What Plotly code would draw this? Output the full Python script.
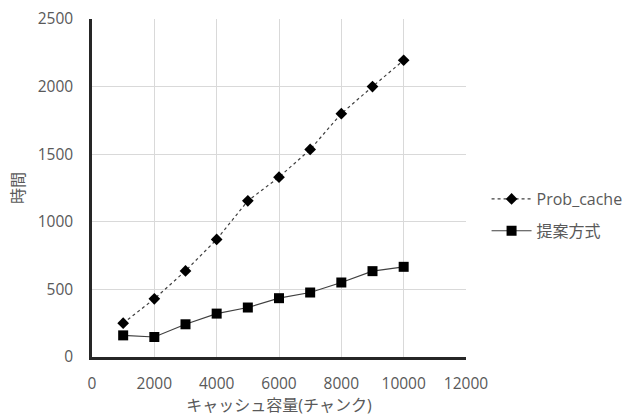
import plotly.graph_objects as go

capacity = [1000, 2000, 3000, 4000, 5000, 6000, 7000, 8000, 9000, 10000]
prob_cache = [250, 430, 637, 870, 1155, 1330, 1535, 1800, 2000, 2195]
proposed = [160, 148, 242, 321, 366, 435, 477, 551, 635, 667]

x_ticks = [0, 2000, 4000, 6000, 8000, 10000, 12000]
y_ticks = [0, 500, 1000, 1500, 2000, 2500]

font_family = "Open Sans, Noto Sans CJK JP, sans-serif"
grey = "#595959"

fig = go.Figure()
fig.add_trace(go.Scatter(
    x=capacity, y=prob_cache, name="Prob_cache", mode="lines+markers",
    legendgroup="a",
    line=dict(color="#404040", width=1.2, dash="dot"),
    marker=dict(symbol="diamond", size=9, color="black"),
))
fig.add_trace(go.Scatter(
    x=capacity, y=proposed, name="提案方式", mode="lines+markers",
    legendgroup="b",
    line=dict(color="#404040", width=1.2),
    marker=dict(symbol="square", size=10, color="black"),
))

fig.update_layout(
    width=623, height=420,
    margin=dict(l=92, r=157, t=19, b=63, autoexpand=False),
    paper_bgcolor="white", plot_bgcolor="white",
    font=dict(family=font_family, size=15, color=grey),
    showlegend=True,
    legend=dict(x=1.055, y=0.42, xanchor="left", yanchor="middle",
                font=dict(size=16, color=grey), bgcolor="rgba(0,0,0,0)",
                tracegroupgap=8, itemwidth=40),
    xaxis=dict(
        range=[0, 12000], tickvals=x_ticks, ticktext=[str(v) for v in x_ticks],
        showgrid=True, gridcolor="#d9d9d9", gridwidth=1,
        showline=True, linecolor="#262626", linewidth=2.5,
        zeroline=False, ticks="", ticklen=0, ticklabelstandoff=11,
        automargin=False,
        title=dict(text="キャッシュ容量(チャンク)", font=dict(size=16, color=grey), standoff=6),
        tickfont=dict(size=15.5, color=grey),
    ),
    yaxis=dict(
        range=[0, 2500], tickvals=y_ticks, ticktext=[str(v) for v in y_ticks],
        showgrid=True, gridcolor="#d9d9d9", gridwidth=1,
        showline=True, linecolor="#262626", linewidth=2.5,
        zeroline=False, ticks="", ticklen=0, ticklabelstandoff=13,
        automargin=False,
        title=dict(text="時間", font=dict(size=16, color=grey), standoff=10),
        tickfont=dict(size=15.5, color=grey),
    ),
)

fig.write_html("out.html")
